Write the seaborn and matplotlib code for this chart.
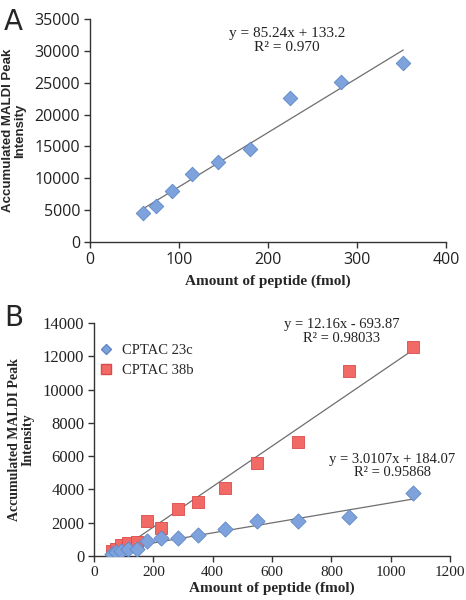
import numpy as np
import pandas as pd
import matplotlib
matplotlib.use("Agg")
import matplotlib.pyplot as plt
import seaborn as sns
from matplotlib.lines import Line2D

# ---- data ----
a_amount = [59, 74, 92, 115, 144, 180, 225, 282, 352]
a_intensity = [4600, 5650, 8000, 10600, 12500, 14600, 22600, 25100, 28100]
a_slope, a_intercept = 85.24, 133.2

b_amount = [59, 74, 92, 115, 144, 180, 225, 282, 352, 440, 550, 688, 860, 1075]
b_23c = [150, 250, 330, 400, 450, 920, 1060, 1100, 1250, 1630, 2130, 2130, 2330, 3760]
b_38b = [300, 450, 650, 800, 870, 2100, 1710, 2810, 3250, 4060, 5560, 6830, 11090, 12570]
b23_slope, b23_intercept = 3.0107, 184.07
b38_slope, b38_intercept = 12.16, -693.87

series_names = ["CPTAC 23c", "CPTAC 38b"]

eq_a = ["y = 85.24x + 133.2", "R² = 0.970"]
eq_b38 = ["y = 12.16x - 693.87", "R² = 0.98033"]
eq_b23 = ["y = 3.0107x + 184.07", "R² = 0.95868"]

xticks_a = [0, 100, 200, 300, 400]
yticks_a = [0, 5000, 10000, 15000, 20000, 25000, 30000, 35000]
xticks_b = [0, 200, 400, 600, 800, 1000, 1200]
yticks_b = [0, 2000, 4000, 6000, 8000, 10000, 12000, 14000]

# ---- style ----
sns.set_theme(style="ticks")
plt.rcParams["font.family"] = ["DejaVu Sans"]

BLUE = "#7ea3dc"
BLUE_E = "#5f86c6"
RED = "#f26a66"
RED_E = "#d94a48"
LINE = "#6e6e6e"
AXC = "#333333"
serif = "Liberation Serif"
sansf = "Open Sans"

W, H = 466, 600
fig = plt.figure(figsize=(W / 100, H / 100), dpi=100)

def box(l, r, t, b):
    return [l / W, 1 - b / H, (r - l) / W, (b - t) / H]

axA = fig.add_axes(box(90, 446, 19, 242))
axB = fig.add_axes(box(94, 450, 323, 556))

def style_axes(ax, tickfont, xsize, ysize):
    for s in ["top", "right"]:
        ax.spines[s].set_visible(False)
    for s in ["left", "bottom"]:
        ax.spines[s].set_color(AXC)
        ax.spines[s].set_linewidth(1.0)
    ax.tick_params(axis="both", direction="out", length=4, width=1.0,
                   color=AXC, labelcolor="#222222", pad=3)
    ax.tick_params(axis="x", labelsize=xsize)
    ax.tick_params(axis="y", labelsize=ysize)
    for lab in ax.get_xticklabels() + ax.get_yticklabels():
        lab.set_fontfamily(tickfont)

# ---- Panel A ----
dfa = pd.DataFrame({"amount": a_amount, "intensity": a_intensity})
xa = np.array([min(a_amount), max(a_amount)])
axA.plot(xa, a_slope * xa + a_intercept, color=LINE, lw=0.9, zorder=1)
sns.scatterplot(data=dfa, x="amount", y="intensity", ax=axA, marker="D",
                s=55, color=BLUE, edgecolor=BLUE_E, linewidth=0.6, zorder=3)
axA.set_xlim(0, 400)
axA.set_ylim(0, 35000)
axA.set_xticks(xticks_a)
axA.set_yticks(yticks_a)
axA.set_xlabel("Amount of peptide (fmol)", fontfamily=serif, fontweight="bold",
               fontsize=11, labelpad=5)
axA.set_ylabel("Accumulated MALDI Peak\nIntensity", fontfamily="Liberation Sans",
               fontweight="bold", fontsize=9.5, labelpad=6, linespacing=1.05)
style_axes(axA, sansf, 11.5, 11.5)
axA.text(221, 31600, eq_a[0] + "\n" + eq_a[1], ha="center", va="center",
         fontfamily=serif, fontsize=11, linespacing=1.05, color="#222222")

# ---- Panel B ----
dfb = pd.DataFrame({
    "amount": b_amount * 2,
    "intensity": b_23c + b_38b,
    "series": [series_names[0]] * len(b_amount) + [series_names[1]] * len(b_amount),
})
xb = np.array([min(b_amount), max(b_amount)])
axB.plot(xb, b38_slope * xb + b38_intercept, color=LINE, lw=0.9, zorder=1)
axB.plot(xb, b23_slope * xb + b23_intercept, color=LINE, lw=0.9, zorder=1)
sns.scatterplot(data=dfb[dfb.series == series_names[0]], x="amount", y="intensity",
                ax=axB, marker="D", s=60, color=BLUE, edgecolor=BLUE_E,
                linewidth=0.6, zorder=3, legend=False)
sns.scatterplot(data=dfb[dfb.series == series_names[1]], x="amount", y="intensity",
                ax=axB, marker="s", s=70, color=RED, edgecolor=RED_E,
                linewidth=0.6, zorder=2, legend=False)
axB.set_xlim(0, 1200)
axB.set_ylim(0, 14000)
axB.set_xticks(xticks_b)
axB.set_yticks(yticks_b)
axB.set_xlabel("Amount of peptide (fmol)", fontfamily=serif, fontweight="bold",
               fontsize=11, labelpad=2)
axB.set_ylabel("Accumulated MALDI Peak\nIntensity", fontfamily=serif,
               fontweight="bold", fontsize=10, labelpad=6, linespacing=1.0)
style_axes(axB, serif, 11, 12)
axB.text(834, 13500, eq_b38[0] + "\n" + eq_b38[1], ha="center", va="center",
         fontfamily=serif, fontsize=10.5, linespacing=1.05, color="#222222")
axB.text(1005, 5400, eq_b23[0] + "\n" + eq_b23[1], ha="center", va="center",
         fontfamily=serif, fontsize=10.5, linespacing=1.05, color="#222222")

handles = [
    Line2D([], [], marker="D", ls="", color=BLUE, markeredgecolor=BLUE_E, markersize=5.5),
    Line2D([], [], marker="s", ls="", color=RED, markeredgecolor=RED_E, markersize=6.5),
]
leg = axB.legend(handles, series_names, loc="upper left", bbox_to_anchor=(0.0, 0.93),
                 frameon=False, prop={"family": serif, "size": 10.5},
                 handlelength=1.0, handletextpad=0.6, labelspacing=0.45,
                 borderaxespad=0.0, borderpad=0.3)

# panel letters
fig.text(4 / W, 1 - 22 / H, "A", fontsize=20, fontfamily="DejaVu Sans", va="center")
fig.text(4 / W, 1 - 318 / H, "B", fontsize=20, fontfamily="DejaVu Sans", va="center")

fig.savefig("out.png", dpi=100, facecolor="white")
